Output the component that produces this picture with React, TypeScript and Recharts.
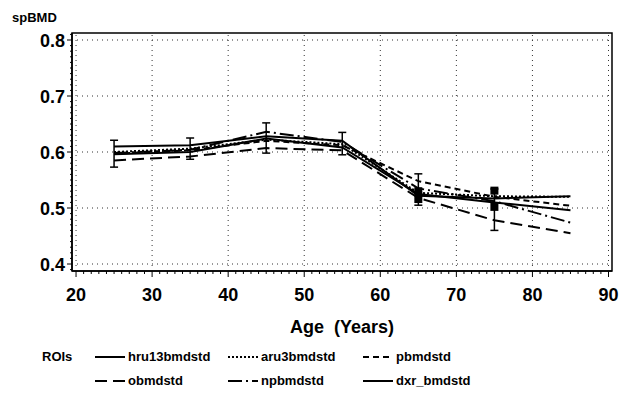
import React from 'react';
import {
  ComposedChart,
  Line,
  Scatter,
  XAxis,
  YAxis,
  ErrorBar,
  ReferenceArea,
  ReferenceLine,
} from 'recharts';

// ---- data ----
const ages = [25, 35, 45, 55, 65, 75, 85];
const hru13bmdstd = [0.610, 0.612, 0.628, 0.620, 0.522, 0.517, 0.521];
const aru3bmdstd = [0.600, 0.606, 0.622, 0.614, 0.527, 0.521, 0.520];
const pbmdstd = [0.597, 0.603, 0.620, 0.612, 0.548, 0.520, 0.504];
const obmdstd = [0.585, 0.592, 0.607, 0.603, 0.518, 0.478, 0.455];
const npbmdstd = [0.598, 0.604, 0.636, 0.618, 0.535, 0.512, 0.474];
const dxr_bmdstd = [0.596, 0.600, 0.624, 0.608, 0.525, 0.510, 0.496];

const errAges = [25, 35, 45, 55, 65, 75];
const errCenters = [0.597, 0.606, 0.625, 0.615, 0.533, 0.497];
const errHalf = [0.024, 0.019, 0.027, 0.020, 0.028, 0.037];

const squareAges = [65, 65, 75, 75];
const squareValues = [0.530, 0.516, 0.531, 0.502];

const xMajorTicks = [20, 30, 40, 50, 60, 70, 80, 90];
const xTickLabels = ['20', '30', '40', '50', '60', '70', '80', '90'];
const yMajorTicks = [0.4, 0.5, 0.6, 0.7, 0.8];
const yTickLabels = ['0.4', '0.5', '0.6', '0.7', '0.8'];

const seriesNames = ['hru13bmdstd', 'aru3bmdstd', 'pbmdstd', 'obmdstd', 'npbmdstd', 'dxr_bmdstd'];
const seriesValues = [hru13bmdstd, aru3bmdstd, pbmdstd, obmdstd, npbmdstd, dxr_bmdstd];
const seriesDash = [undefined, '2 2', '6 4', '12 6', '14 4 2 4', undefined];

// ---- derived tables ----
const data = ages.map((age, i) => {
  const row: any = { age };
  seriesNames.forEach((n, s) => {
    row[n] = seriesValues[s][i];
  });
  return row;
});
const errData = errAges.map((age, i) => ({ age, mean: errCenters[i], err: errHalf[i] }));
const squareData = squareAges.map((age, i) => ({ age, v: squareValues[i] }));

// minor tick positions (axis decoration)
const xAllTicks: number[] = [];
for (let k = 20; k <= 90; k++) xAllTicks.push(k);
const yAllTicks: number[] = [];
for (let k = 39; k <= 81; k++) yAllTicks.push(k / 100);

const X_DOMAIN: [number, number] = [19.47, 90.46];
const Y_DOMAIN: [number, number] = [0.3875, 0.8125];

const FONT = '"Liberation Sans", Arial, Helvetica, sans-serif';

const XTick = (props: any) => {
  const { x, y, payload } = props;
  const v = payload.value;
  const idx = xMajorTicks.indexOf(v);
  const major = idx >= 0;
  return (
    <g>
      <line x1={x} x2={x} y1={y} y2={y + (major ? 6 : 3)} stroke="#000" strokeWidth={1} />
      {major && (
        <text x={x} y={y + 30} textAnchor="middle" fontSize={18} fontWeight="bold" fontFamily={FONT} fill="#000">
          {xTickLabels[idx]}
        </text>
      )}
    </g>
  );
};

const YTick = (props: any) => {
  const { x, y, payload } = props;
  const v = payload.value;
  const idx = yMajorTicks.findIndex((t) => Math.abs(t - v) < 1e-6);
  const major = idx >= 0;
  return (
    <g>
      <line x1={x} x2={x - (major ? 5 : 2)} y1={y} y2={y} stroke="#000" strokeWidth={1} />
      {major && (
        <text x={x - 7} y={y + 6.5} textAnchor="end" fontSize={18} fontWeight="bold" fontFamily={FONT} fill="#000">
          {yTickLabels[idx]}
        </text>
      )}
    </g>
  );
};

const XLabel = (props: any) => {
  const vb = props.viewBox || { x: 72, y: 271, width: 540 };
  return (
    <text
      x={vb.x + vb.width / 2}
      y={vb.y + 62}
      textAnchor="middle"
      fontSize={18}
      fontWeight="bold"
      fontFamily={FONT}
      fill="#000"
      style={{ whiteSpace: 'pre' }}
    >
      {'Age  (Years)'}
    </text>
  );
};

const LegendSample = ({ dash }: { dash?: string }) => (
  <svg width={30} height={10} style={{ display: 'block' }}>
    <line x1={0} x2={30} y1={5} y2={5} stroke="#000" strokeWidth={2} strokeDasharray={dash} />
  </svg>
);

const legendCols = [95, 228, 363];
const legendRows = [357, 381];

export default function App() {
  return (
    <div style={{ position: 'absolute', left: 0, top: 0, width: 630, height: 395, background: '#fff', fontFamily: FONT }}>
      <ComposedChart
        width={630}
        height={395}
        data={data}
        margin={{ top: 33, right: 18, bottom: 68, left: 0 }}
      >
        <XAxis
          dataKey="age"
          type="number"
          domain={X_DOMAIN}
          ticks={xAllTicks}
          interval={0}
          allowDataOverflow
          tickLine={false}
          tickSize={0}
          tickMargin={0}
          tick={<XTick />}
          axisLine={{ stroke: '#000', strokeWidth: 1.5 }}
          height={56}
          label={<XLabel />}
        />
        <YAxis
          type="number"
          domain={Y_DOMAIN}
          ticks={yAllTicks}
          interval={0}
          allowDataOverflow
          tickLine={false}
          tickSize={0}
          tickMargin={0}
          tick={<YTick />}
          axisLine={{ stroke: '#000', strokeWidth: 1.5 }}
          width={72}
        />
        {xMajorTicks.map((t) => (
          <ReferenceLine key={'vx' + t} x={t} stroke="#333" strokeWidth={1} strokeDasharray="1 4" ifOverflow="visible" />
        ))}
        {yMajorTicks.map((t) => (
          <ReferenceLine key={'hy' + t} y={t} stroke="#333" strokeWidth={1} strokeDasharray="1 4" ifOverflow="visible" />
        ))}
        <ReferenceArea
          x1={X_DOMAIN[0]}
          x2={X_DOMAIN[1]}
          y1={Y_DOMAIN[0]}
          y2={Y_DOMAIN[1]}
          fill="none"
          fillOpacity={0}
          stroke="#000"
          strokeWidth={1.5}
          ifOverflow="visible"
        />
        {seriesNames.map((n, s) => (
          <Line
            key={n}
            type="linear"
            dataKey={n}
            stroke="#000"
            strokeWidth={2}
            strokeDasharray={seriesDash[s]}
            dot={false}
            activeDot={false}
            isAnimationActive={false}
          />
        ))}
        <Scatter data={errData} dataKey="mean" shape={() => <g />} isAnimationActive={false}>
          <ErrorBar dataKey="err" direction="y" width={4} stroke="#000" strokeWidth={1.5} />
        </Scatter>
        <Scatter data={squareData} dataKey="v" shape="square" fill="#000" isAnimationActive={false} />
      </ComposedChart>

      <div style={{ position: 'absolute', left: 12, top: 10, fontSize: 13, fontWeight: 'bold', lineHeight: '16px' }}>
        spBMD
      </div>

      <div style={{ position: 'absolute', left: 42, top: legendRows[0] - 8, fontSize: 13, fontWeight: 'bold', lineHeight: '16px' }}>ROIs</div>
      {seriesNames.map((n, s) => {
        const col = s % 3;
        const row = Math.floor(s / 3);
        return (
          <div
            key={'lg' + n}
            style={{
              position: 'absolute',
              left: legendCols[col],
              top: legendRows[row] - 8,
              display: 'flex',
              alignItems: 'center',
              fontSize: 13,
              fontWeight: 'bold',
              lineHeight: '16px',
              whiteSpace: 'nowrap',
            }}
          >
            <LegendSample dash={seriesDash[s]} />
            <span style={{ marginLeft: 3 }}>{n}</span>
          </div>
        );
      })}
    </div>
  );
}
